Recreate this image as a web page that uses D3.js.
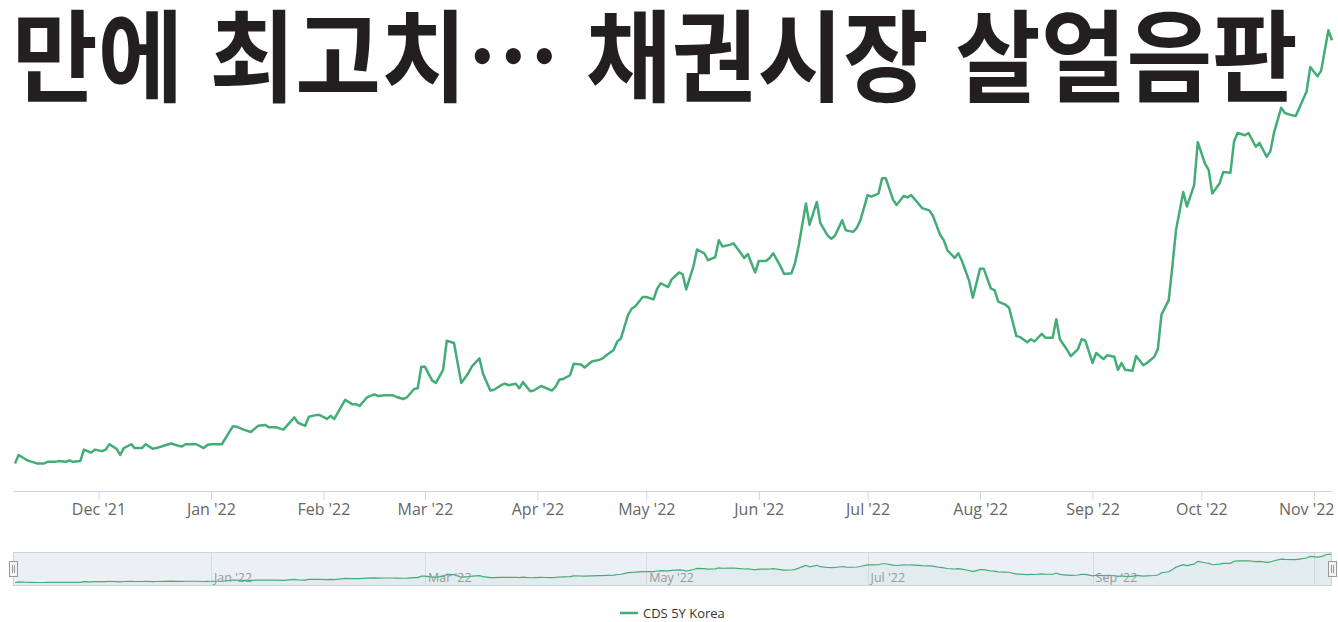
<!DOCTYPE html>
<html lang="ko">
<head>
<meta charset="utf-8">
<script src="https://cdn.jsdelivr.net/npm/d3@7"></script>
<style>
  html, body { margin: 0; padding: 0; background: #fff; }
  svg { display: block; }
</style>
</head>
<body>
<div id="chart"></div>
<script>
const headline = '만에 최고치… 채권시장 살얼음판';
const seriesName = 'CDS 5Y Korea';

const dates = [
  '2021-11-08','2021-11-09','2021-11-11','2021-11-12','2021-11-14','2021-11-16','2021-11-17','2021-11-19','2021-11-20','2021-11-22',
  '2021-11-23','2021-11-24','2021-11-26','2021-11-27','2021-11-29','2021-11-30','2021-12-02','2021-12-03','2021-12-04','2021-12-06',
  '2021-12-07','2021-12-08','2021-12-10','2021-12-11','2021-12-13','2021-12-14','2021-12-16','2021-12-17','2021-12-19','2021-12-21',
  '2021-12-23','2021-12-24','2021-12-25','2021-12-27','2021-12-28','2021-12-30','2021-12-31','2022-01-01','2022-01-04','2022-01-07',
  '2022-01-08','2022-01-10','2022-01-12','2022-01-14','2022-01-16','2022-01-17','2022-01-19','2022-01-21','2022-01-24','2022-01-25',
  '2022-01-27','2022-01-28','2022-01-30','2022-01-31','2022-02-02','2022-02-03','2022-02-04','2022-02-07','2022-02-09','2022-02-10',
  '2022-02-11','2022-02-13','2022-02-15','2022-02-16','2022-02-18','2022-02-20','2022-02-21','2022-02-23','2022-02-24','2022-02-26',
  '2022-02-27','2022-02-28','2022-03-01','2022-03-03','2022-03-04','2022-03-06','2022-03-07','2022-03-09','2022-03-10','2022-03-11',
  '2022-03-13','2022-03-14','2022-03-16','2022-03-17','2022-03-19','2022-03-20','2022-03-22','2022-03-23','2022-03-24','2022-03-26',
  '2022-03-27','2022-03-28','2022-03-30','2022-03-31','2022-04-02','2022-04-03','2022-04-05','2022-04-06','2022-04-07','2022-04-08',
  '2022-04-10','2022-04-11','2022-04-13','2022-04-14','2022-04-16','2022-04-18','2022-04-19','2022-04-20','2022-04-22','2022-04-23',
  '2022-04-24','2022-04-26','2022-04-27','2022-04-28','2022-04-30','2022-05-01','2022-05-03','2022-05-04','2022-05-05','2022-05-07',
  '2022-05-08','2022-05-10','2022-05-11','2022-05-12','2022-05-14','2022-05-15','2022-05-17','2022-05-18','2022-05-20','2022-05-21',
  '2022-05-22','2022-05-24','2022-05-25','2022-05-26','2022-05-28','2022-05-29','2022-05-31','2022-06-01','2022-06-03','2022-06-04',
  '2022-06-05','2022-06-07','2022-06-08','2022-06-10','2022-06-11','2022-06-12','2022-06-14','2022-06-15','2022-06-17','2022-06-18',
  '2022-06-20','2022-06-21','2022-06-22','2022-06-24','2022-06-25','2022-06-27','2022-06-28','2022-06-29','2022-07-01','2022-07-02',
  '2022-07-04','2022-07-05','2022-07-06','2022-07-08','2022-07-09','2022-07-11','2022-07-12','2022-07-13','2022-07-15','2022-07-16',
  '2022-07-18','2022-07-19','2022-07-21','2022-07-22','2022-07-23','2022-07-25','2022-07-26','2022-07-27','2022-07-29','2022-07-30',
  '2022-08-01','2022-08-02','2022-08-04','2022-08-05','2022-08-06','2022-08-08','2022-08-09','2022-08-11','2022-08-12','2022-08-14',
  '2022-08-15','2022-08-16','2022-08-18','2022-08-19','2022-08-21','2022-08-22','2022-08-23','2022-08-25','2022-08-26','2022-08-28',
  '2022-08-29','2022-08-30','2022-09-01','2022-09-02','2022-09-04','2022-09-05','2022-09-07','2022-09-08','2022-09-09','2022-09-10',
  '2022-09-12','2022-09-13','2022-09-15','2022-09-16','2022-09-18','2022-09-19','2022-09-20','2022-09-22','2022-09-23','2022-09-24',
  '2022-09-26','2022-09-27','2022-09-29','2022-09-30','2022-10-02','2022-10-03','2022-10-04','2022-10-06','2022-10-07','2022-10-09',
  '2022-10-10','2022-10-11','2022-10-13','2022-10-14','2022-10-16','2022-10-17','2022-10-19','2022-10-20','2022-10-21','2022-10-23',
  '2022-10-24','2022-10-26','2022-10-27','2022-10-28','2022-10-30','2022-10-31','2022-11-02','2022-11-03','2022-11-05','2022-11-06'
];

const cds = [
  18.6, 19.7, 19.1, 18.9, 18.6, 18.6, 18.8, 18.8, 18.9, 18.8,
  19.0, 18.8, 18.9, 20.4, 20.0, 20.4, 20.2, 20.4, 21.1, 20.5,
  19.7, 20.6, 21.1, 20.6, 20.6, 21.1, 20.5, 20.6, 20.9, 21.2,
  20.9, 20.8, 21.1, 21.1, 21.1, 20.6, 21.0, 21.1, 21.1, 23.4,
  23.4, 23.0, 22.7, 23.5, 23.6, 23.3, 23.3, 23.0, 24.6, 23.9,
  23.5, 24.7, 24.9, 24.9, 24.4, 24.8, 24.4, 26.9, 26.3, 26.3,
  26.1, 27.2, 27.6, 27.4, 27.5, 27.5, 27.3, 27.0, 27.2, 28.3,
  28.4, 31.2, 31.2, 29.4, 29.1, 30.8, 34.6, 34.3, 31.7, 29.1,
  30.4, 31.3, 32.3, 30.3, 28.1, 28.2, 28.8, 29.0, 28.8, 29.0,
  28.4, 29.2, 28.0, 28.1, 28.7, 28.5, 28.1, 28.6, 29.5, 29.6,
  30.1, 31.6, 31.5, 31.1, 31.9, 32.1, 32.3, 32.7, 33.4, 34.5,
  34.9, 38.0, 38.8, 39.1, 40.3, 40.3, 40.0, 41.4, 42.1, 41.6,
  42.6, 43.5, 43.3, 41.3, 44.3, 46.5, 46.0, 45.1, 45.5, 47.7,
  46.9, 47.1, 47.3, 46.7, 45.4, 45.9, 43.5, 45.0, 45.0, 45.4,
  46.0, 44.3, 43.3, 43.4, 44.7, 47.0, 52.5, 49.7, 52.7, 49.9,
  48.3, 47.9, 48.3, 50.3, 49.0, 48.8, 49.3, 50.3, 53.6, 53.4,
  53.8, 55.8, 55.8, 53.0, 52.3, 53.5, 53.3, 53.6, 52.5, 51.9,
  51.6, 50.9, 48.4, 47.7, 46.4, 45.4, 46.0, 45.0, 42.4, 40.2,
  44.0, 44.0, 41.4, 41.2, 39.7, 39.3, 38.9, 35.2, 35.1, 34.4,
  34.8, 34.5, 35.5, 35.0, 35.0, 37.4, 34.8, 33.4, 32.6, 33.5,
  34.8, 34.6, 31.7, 33.0, 32.2, 32.7, 32.5, 30.8, 31.7, 30.8,
  30.7, 32.6, 31.4, 31.7, 32.5, 33.5, 38.0, 39.9, 44.3, 49.0,
  54.0, 52.1, 54.9, 60.5, 57.7, 56.9, 53.8, 55.1, 56.6, 56.5,
  60.6, 61.7, 61.4, 61.7, 59.9, 60.4, 58.6, 59.3, 61.7, 65.0,
  64.3, 64.0, 63.9, 65.0, 67.1, 70.3, 69.1, 69.8, 75.1, 73.8
];

const width = 1338;
const height = 622;
const lineColor = '#43ac77';
const axisColor = '#ccd6eb';
const labelFont = '"Open Sans", "Noto Sans", sans-serif';

const parseDate = d3.timeParse('%Y-%m-%d');
const data = dates.map((d, i) => ({ date: parseDate(d), value: cds[i] }));

const svg = d3.select('#chart')
  .append('svg')
  .attr('width', width)
  .attr('height', height);

const xScale = d3.scaleTime()
  .domain(d3.extent(data, (d) => d.date))
  .range([15, 1332]);

const yScale = d3.scaleLinear()
  .domain([15, 75])
  .range([491, 31]);

// main series
svg.append('path')
  .datum(data)
  .attr('fill', 'none')
  .attr('stroke', lineColor)
  .attr('stroke-width', 2.5)
  .attr('stroke-linejoin', 'round')
  .attr('d', d3.line().x((d) => xScale(d.date)).y((d) => yScale(d.value)));

// x axis
const monthFmt = d3.timeFormat("%b '%y");
const xAxis = svg.append('g')
  .attr('transform', 'translate(0, 491)')
  .call(d3.axisBottom(xScale)
    .ticks(d3.timeMonth.every(1))
    .tickFormat(monthFmt)
    .tickSize(9)
    .tickPadding(4));
xAxis.select('.domain').attr('stroke', axisColor).attr('d', 'M13.5,0.5H1332.5');
xAxis.selectAll('.tick line').attr('stroke', axisColor);
xAxis.selectAll('.tick text')
  .attr('fill', '#666')
  .style('font-family', labelFont)
  .style('font-size', '16px');

// keep the last label inside the plot, like the original does
xAxis.selectAll('.tick text').each(function () {
  const box = this.getBBox();
  const tickX = d3.select(this.parentNode).datum();
  const overflow = xScale(tickX) + box.width / 2 - 1334;
  if (overflow > 0) d3.select(this).attr('x', -overflow);
});

// navigator
const nav = { top: 552, bottom: 586, left: 13, right: 1332 };
const navY = d3.scaleLinear()
  .domain(d3.extent(data, (d) => d.value))
  .range([582.5, 554]);

const navG = svg.append('g').attr('class', 'navigator');
navG.append('rect')
  .attr('x', nav.left).attr('y', nav.top)
  .attr('width', nav.right - nav.left).attr('height', nav.bottom - nav.top)
  .attr('fill', '#ebf0f6');

const navTicks = xScale.ticks(d3.timeMonth.every(2));
navG.selectAll('line.grid')
  .data(navTicks)
  .join('line')
  .attr('class', 'grid')
  .attr('x1', (d) => Math.round(xScale(d)) + 0.5)
  .attr('x2', (d) => Math.round(xScale(d)) + 0.5)
  .attr('y1', nav.top).attr('y2', nav.bottom)
  .attr('stroke', '#d9dde3');

navG.append('path')
  .datum(data)
  .attr('fill', lineColor)
  .attr('fill-opacity', 0.05)
  .attr('d', d3.area().x((d) => xScale(d.date)).y0(nav.bottom).y1((d) => navY(d.value)));

navG.append('path')
  .datum(data)
  .attr('fill', 'none')
  .attr('stroke', lineColor)
  .attr('stroke-width', 1.2)
  .attr('d', d3.line().x((d) => xScale(d.date)).y((d) => navY(d.value)));

navG.selectAll('text')
  .data(navTicks.filter((d) => xScale(d) + 45 < nav.right))
  .join('text')
  .attr('x', (d) => xScale(d) + 3)
  .attr('y', 582)
  .attr('fill', '#999')
  .style('font-family', labelFont)
  .style('font-size', '12.5px')
  .text(monthFmt);

navG.append('rect')
  .attr('x', nav.left + 0.5).attr('y', nav.top + 0.5)
  .attr('width', nav.right - nav.left - 1).attr('height', nav.bottom - nav.top - 1)
  .attr('fill', 'none')
  .attr('stroke', '#cfd4da');

// handles
const handles = [nav.left - 4, nav.right - 4];
const handleG = navG.selectAll('g.handle')
  .data(handles)
  .join('g')
  .attr('class', 'handle')
  .attr('transform', (d) => `translate(${d}, 561)`);
handleG.append('rect')
  .attr('x', 0.5).attr('y', 0.5)
  .attr('width', 8).attr('height', 15)
  .attr('fill', '#f2f2f2')
  .attr('stroke', '#999');
handleG.selectAll('line')
  .data([3.5, 5.5])
  .join('line')
  .attr('x1', (d) => d).attr('x2', (d) => d)
  .attr('y1', 4).attr('y2', 12)
  .attr('stroke', '#999');

// legend
const legend = svg.append('g').attr('transform', 'translate(620, 613)');
legend.append('line')
  .attr('x1', 0).attr('x2', 18)
  .attr('stroke', lineColor)
  .attr('stroke-width', 2.5);
legend.append('text')
  .attr('x', 23)
  .attr('dy', '0.35em')
  .attr('fill', '#333')
  .style('font-family', labelFont)
  .style('font-size', '13px')
  .text(seriesName);

// headline over the chart, squeezed horizontally to the original's width
const title = svg.append('text')
  .attr('fill', '#231f20')
  .style('font-family', '"Noto Sans CJK KR", sans-serif')
  .style('font-weight', 700)
  .style('font-size', '100px')
  .text(headline);
const titleW = title.node().getComputedTextLength();
title.attr('transform', `translate(12, 94) scale(${1286 / titleW}, 1)`);
</script>
</body>
</html>
